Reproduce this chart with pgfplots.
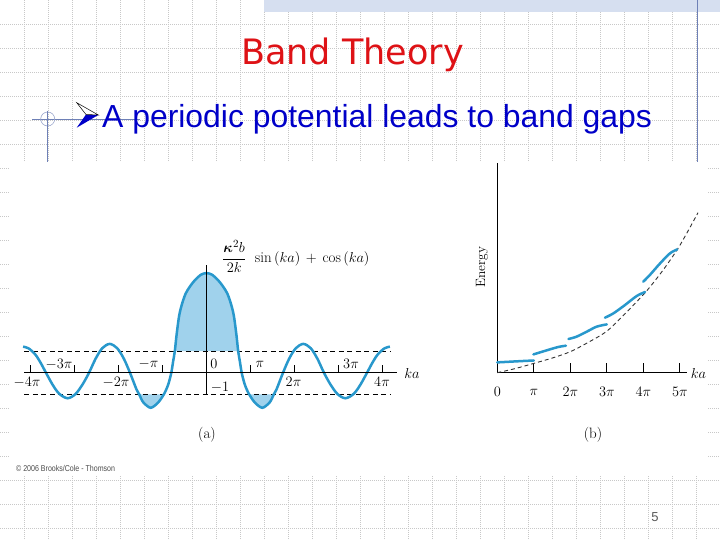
\documentclass[border=0pt]{standalone}
\usepackage{fontspec}
\usepackage{amsmath,bm}
\usepackage{pgfplots}
\usepackage{pgfplotstable}
\pgfplotsset{compat=1.18}
\newfontfamily\titlefont{DejaVu Sans}
\newfontfamily\slidefont{Liberation Sans}
\definecolor{curveblue}{RGB}{40,152,204}
\definecolor{gapfill}{RGB}{160,210,236}
\definecolor{gridgray}{RGB}{200,200,200}
\definecolor{bandtop}{RGB}{214,223,240}
\definecolor{deco}{RGB}{110,128,182}
\definecolor{titlered}{RGB}{222,18,22}
\definecolor{bulletblue}{RGB}{0,0,200}

% (a): ka/pi vs (kappa^2 b/2k) sin(ka) + cos(ka)
\pgfplotstableread{
x y
-4.17 1.20
-4.05 1.13
-3.90 0.86
-3.78 0.49
-3.65 0.00
-3.50 -0.55
-3.35 -0.97
-3.16 -1.18
-2.98 -0.99
-2.82 -0.55
-2.67 0.00
-2.52 0.65
-2.37 1.13
-2.20 1.33
-2.03 1.13
-1.88 0.65
-1.74 0.00
-1.59 -0.78
-1.53 -1.00
-1.44 -1.36
-1.27 -1.62
-1.10 -1.38
-0.97 -1.00
-0.91 -0.75
-0.86 -0.48
-0.80 0.00
-0.76 0.50
-0.72 1.00
-0.68 1.75
-0.62 2.65
-0.55 3.22
-0.47 3.67
-0.37 4.00
-0.26 4.28
-0.13 4.52
0.00 4.60
0.13 4.52
0.26 4.28
0.37 4.00
0.47 3.67
0.55 3.22
0.62 2.65
0.68 1.75
0.72 1.00
0.76 0.50
0.80 0.00
0.86 -0.48
0.91 -0.75
0.97 -1.00
1.10 -1.38
1.27 -1.62
1.44 -1.36
1.53 -1.00
1.59 -0.78
1.74 0.00
1.88 0.65
2.03 1.13
2.20 1.33
2.37 1.13
2.52 0.65
2.67 0.00
2.82 -0.55
2.98 -0.99
3.16 -1.18
3.35 -0.97
3.50 -0.55
3.65 0.00
3.78 0.49
3.90 0.86
4.05 1.13
4.17 1.20
}\curvea

% (b): free-electron energy (dashed) and the allowed bands
\pgfplotstableread{
x y
0.00 0.0
0.50 4.2
1.00 9.3
1.50 14.6
2.00 21.0
2.50 30.5
3.00 41.5
3.50 59.0
4.05 80.0
4.50 100.5
4.93 123.0
5.20 140.0
5.50 160.0
}\freeel

\begin{document}
\begin{tikzpicture}
\path[use as bounding box] (0,0) rectangle (720pt,540pt);
\begin{scope}[x=1pt,y=-1pt,shift={(0pt,540pt)}]
  % slide background
  \foreach \k in {1,...,29}
    \draw[gridgray, line width=0.5pt, dash pattern=on 0.8pt off 1.2pt] (24*\k,0) -- (24*\k,540);
  \foreach \k in {1,...,22}
    \draw[gridgray, line width=0.5pt, dash pattern=on 0.8pt off 1.2pt] (0,24*\k) -- (720,24*\k);
  \fill[white] (10,162) rectangle (707,476);
  \fill[bandtop] (264,0) rectangle (720,12);
  \draw[deco, line width=0.8pt] (697,0) -- (697,162);
  % bullet decoration
  \draw[deco, line width=0.7pt] (32,119) -- (140,119);
  \draw[deco!70, line width=0.6pt] (47.7,119) circle (7pt);
  \draw[deco, line width=0.8pt] (47.7,111) -- (47.7,162);
  \fill[bulletblue] (86,114.5) -- (98.3,115) -- (76.7,127.7) -- cycle;
  \filldraw[fill=white, draw=black, line width=0.5pt] (76.7,102.7) -- (98.3,115) -- (86,114.5) -- cycle;
  % texts
  \node[anchor=base west, inner sep=0, text=titlered, font=\titlefont\fontsize{35}{42}\selectfont] at (241,64.3) {Band Theory};
  \node[anchor=base west, inner sep=0, text=bulletblue, font=\slidefont\fontsize{31.9}{38}\selectfont] at (102,127.7) {A periodic potential leads to band gaps};
  \node[anchor=west, inner sep=0, text=black!70, font=\slidefont\fontsize{8.5}{10}\selectfont, xscale=0.83] at (16,468) {© 2006 Brooks/Cole - Thomson};
  \node[inner sep=0, text=black!65, font=\slidefont\fontsize{13}{15}\selectfont] at (655,517) {5};
  % labels of (a)
  \begin{scope}[every node/.style={inner sep=0, font=\fontsize{15}{18}\selectfont}]
    \node at (27,382) {$-4\pi$};
    \node at (59,364) {$-3\pi$};
    \node at (116,382) {$-2\pi$};
    \node at (148.5,364) {$-\pi$};
    \node at (214,364) {$0$};
    \node at (260,364) {$\pi$};
    \node at (293.5,382) {$2\pi$};
    \node at (351,364) {$3\pi$};
    \node at (382,382) {$4\pi$};
    \node at (220,343) {$+1$};
    \node at (220,387.5) {$-1$};
    \node at (412,374) {$ka$};
    \node[anchor=west] at (222,256.5) {$\dfrac{\boldsymbol{\kappa}^2 b}{2k}\;\,\sin\,(ka)\,+\,\cos\,(ka)$};
    \node at (207,434.5) {(a)};
    % labels of (b)
    \node at (497.3,392) {$0$};
    \node at (533.8,392) {$\pi$};
    \node at (570.3,392) {$2\pi$};
    \node at (606.8,392) {$3\pi$};
    \node at (643.3,392) {$4\pi$};
    \node at (679.8,392) {$5\pi$};
    \node at (698.5,374) {$ka$};
    \node at (593,435) {(b)};
    \node[rotate=90, font=\fontsize{13.5}{16}\selectfont] at (482,267) {Energy};
  \end{scope}
\end{scope}

% (a)
\begin{axis}[
  at={(206.5pt,167.3pt)}, anchor=origin,
  scale only axis, width=373pt, height=129.3pt,
  xmin=-4.14, xmax=4.34, ymin=-1, ymax=4.97,
  axis lines=middle, axis line style={-, black, line width=0.8pt},
  xtick={-4,-3,-2,-1,1,2,3,4}, xticklabels={}, ytick=\empty,
  tick align=inside, major tick length=8pt,
  every tick/.style={black, line width=0.8pt},
  axis on top, clip=false,
]
% forbidden regions, |f| > 1
\addplot[fill=gapfill, draw=none, smooth, restrict x to domain=-0.72:0.72] table {\curvea} -- cycle;
\addplot[fill=gapfill, draw=none, smooth, restrict x to domain=-1.54:-0.96] table {\curvea} -- cycle;
\addplot[fill=gapfill, draw=none, smooth, restrict x to domain=0.96:1.54] table {\curvea} -- cycle;
\addplot[black, line width=0.7pt, dash pattern=on 5pt off 3.5pt] coordinates {(-4.14,1) (4.18,1)};
\addplot[black, line width=0.7pt, dash pattern=on 5pt off 3.5pt] coordinates {(-4.14,-1) (4.18,-1)};
\addplot[curveblue, line width=2.5pt, smooth] table {\curvea};
\end{axis}

% (b)
\begin{axis}[
  at={(497.3pt,167.3pt)}, anchor=origin,
  scale only axis, width=189.4pt, height=210pt,
  xmin=0, xmax=5.19, ymin=0, ymax=210,
  axis lines=left, axis line style={-, black, line width=1pt},
  xtick={1,2,3,4,5}, xticklabels={}, ytick=\empty,
  tick align=inside, major tick length=9.5pt,
  every tick/.style={black, line width=0.8pt},
  clip=false,
]
\addplot[black!80, line width=0.9pt, dash pattern=on 4pt off 3pt, smooth] table {\freeel};
\addplot[curveblue, line width=2.5pt, smooth, line cap=round] coordinates {
  (0,10.3) (0.35,11.0) (0.71,11.7) (1.0,12.2)};
\addplot[curveblue, line width=2.5pt, smooth, line cap=round] coordinates {
  (0.99,18.3) (1.17,20.3) (1.44,23.3) (1.67,25.7) (1.88,27.0)};
\addplot[curveblue, line width=2.5pt, smooth, line cap=round] coordinates {
  (1.95,33.7) (2.17,36.0) (2.45,41.0) (2.72,46.0) (3.0,48.3)};
\addplot[curveblue, line width=2.5pt, smooth, line cap=round] coordinates {
  (2.95,55.0) (3.18,59.3) (3.5,67.7) (3.82,76.7) (4.05,80.7)};
\addplot[curveblue, line width=2.5pt, smooth, line cap=round] coordinates {
  (4.0,91.0) (4.18,97.7) (4.46,109.3) (4.73,119.3) (4.93,123.3)};
\end{axis}
\end{tikzpicture}
\end{document}
